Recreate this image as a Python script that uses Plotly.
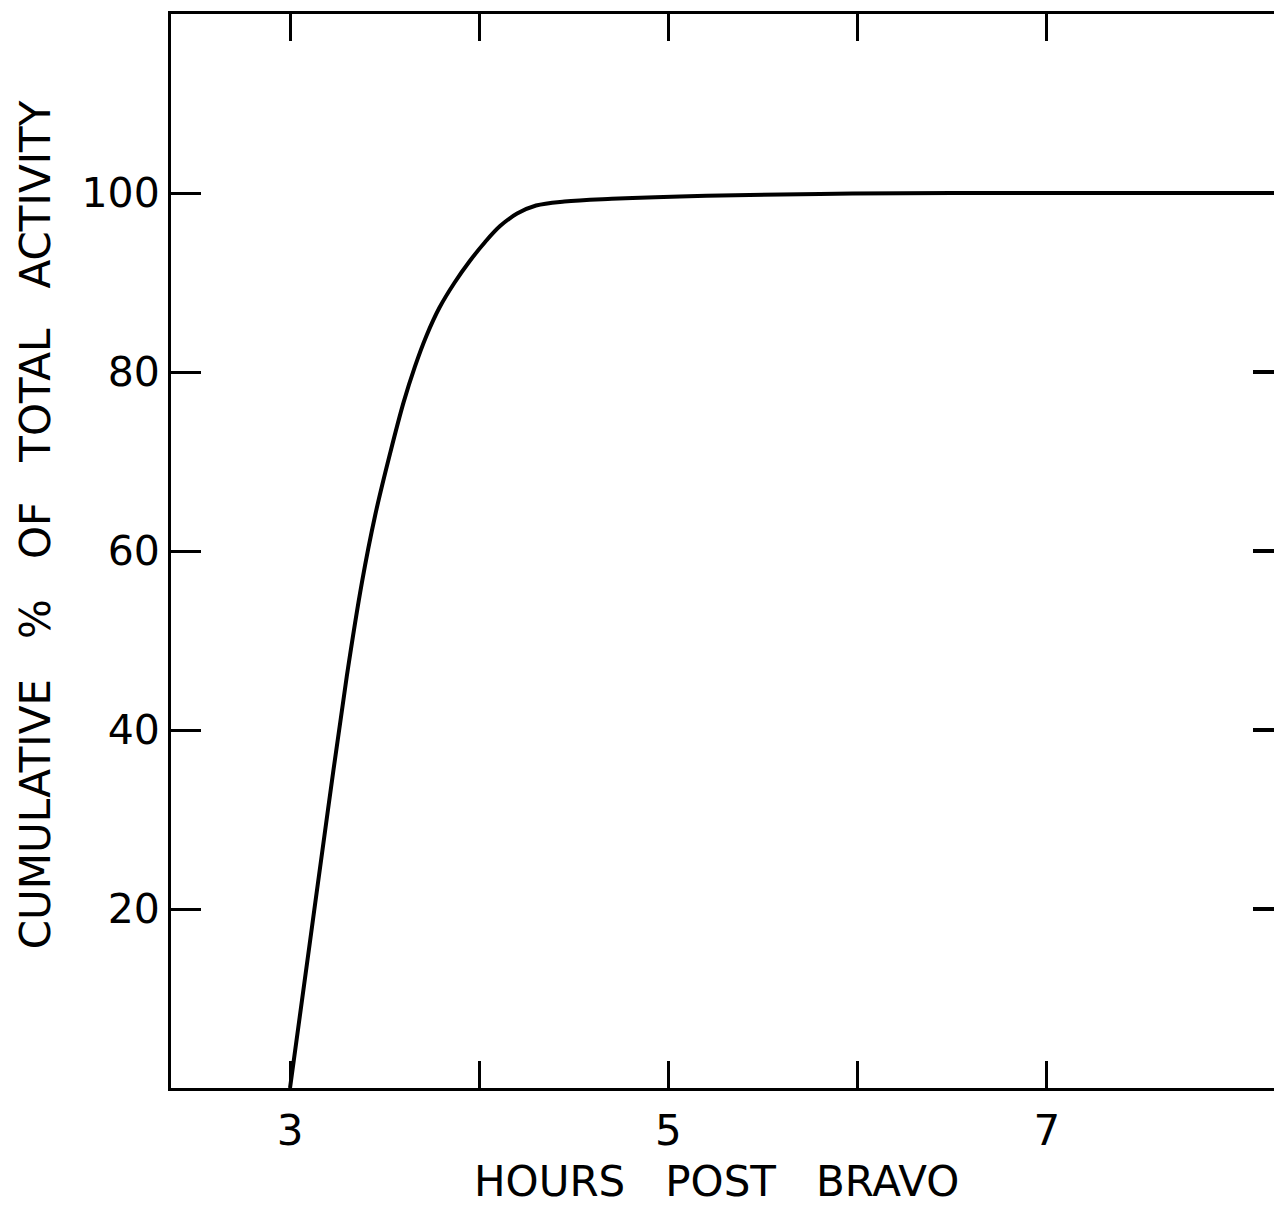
import plotly.graph_objects as go

# Data
hours = [3.0, 3.10, 3.20, 3.30, 3.38, 3.45, 3.53, 3.60, 3.66, 3.72,
         3.79, 3.87, 3.95, 4.03, 4.11, 4.20, 4.30, 4.45, 4.70, 5.20,
         5.80, 6.50, 8.20]
cum_pct = [0.0, 15.5, 31.0, 46.0, 56.5, 64.0, 71.0, 76.6, 80.6, 84.0,
           87.2, 90.0, 92.4, 94.5, 96.3, 97.7, 98.6, 99.05, 99.35, 99.7,
           99.9, 100.0, 100.0]

x_tickvals = [3, 4, 5, 6, 7]
x_ticktext = ["3", "", "5", "", "7"]
y_tickvals = [20, 40, 60, 80, 100]
y_ticktext = ["20", "40", "60", "80", "100"]
right_tickvals = [20, 40, 60, 80]

SP = "\u00a0\u00a0\u00a0"
x_title = SP.join(["HOURS", "POST", "BRAVO"])
y_title = SP.join(["CUMULATIVE", "%", "OF", "TOTAL", "ACTIVITY"])

FONT = "DejaVu Sans"

fig = go.Figure()
fig.add_trace(go.Scatter(x=hours, y=cum_pct, mode="lines",
                         line=dict(color="black", width=4, shape="spline", smoothing=1.0),
                         showlegend=False, hoverinfo="skip"))
# invisible trace to hold the right-hand tick axis
fig.add_trace(go.Scatter(x=[hours[0]], y=[cum_pct[0]], yaxis="y2", mode="markers",
                         marker=dict(opacity=0), showlegend=False, hoverinfo="skip"))

fig.update_layout(
    width=1274, height=1205,
    margin=dict(l=171, r=0, t=14, b=117),
    paper_bgcolor="white", plot_bgcolor="white",
    font=dict(family=FONT, color="black", size=40),
    xaxis=dict(range=[2.371, 8.2], tickvals=x_tickvals, ticktext=x_ticktext,
               ticks="inside", ticklen=27, tickwidth=3, tickcolor="black",
               showline=True, linewidth=3, linecolor="black", mirror="ticks",
               showgrid=False, zeroline=False, ticklabelstandoff=4,
               tickfont=dict(size=42, family=FONT)),
    yaxis=dict(range=[0, 120], tickvals=y_tickvals, ticktext=y_ticktext,
               ticks="inside", ticklen=30, tickwidth=3, tickcolor="black",
               showline=True, linewidth=3, linecolor="black",
               showgrid=False, zeroline=False, ticklabelstandoff=0,
               tickfont=dict(size=41, family=FONT)),
    yaxis2=dict(range=[0, 120], overlaying="y", side="right",
                tickvals=right_tickvals, showticklabels=False,
                ticks="inside", ticklen=21, tickwidth=4, tickcolor="black",
                showline=False, showgrid=False, zeroline=False),
    annotations=[
        dict(text=x_title, xref="paper", yref="paper", x=0.495, y=-0.0866,
             xanchor="center", yanchor="middle", showarrow=False,
             font=dict(size=42, family=FONT)),
        dict(text=y_title, xref="paper", yref="paper", x=-0.1233, y=0.524,
             xanchor="center", yanchor="middle", textangle=-90, showarrow=False,
             font=dict(size=42, family=FONT)),
    ],
)

fig.write_html("out.html", config={"displayModeBar": False},
               post_script="document.body.style.margin='0';document.body.style.overflow='hidden';")
